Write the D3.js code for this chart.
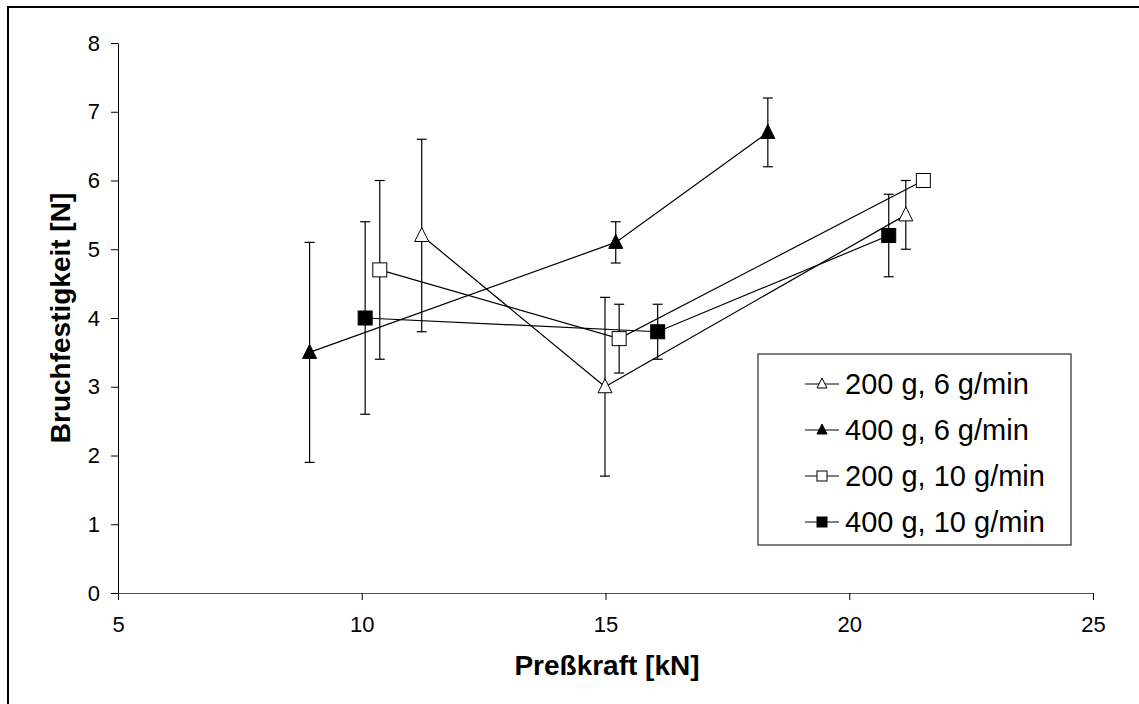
<!DOCTYPE html>
<html>

<head>
    <script type="text/javascript" src="https://cdnjs.cloudflare.com/ajax/libs/d3/7.8.5/d3.min.js"></script>
    <style>
        body {
            margin: 0;
            background: white;
        }
    </style>
</head>

<body>
    <script>
        // series names (legend)
        var seriesNames = ['200 g, 6 g/min', '400 g, 6 g/min', '200 g, 10 g/min', '400 g, 10 g/min'];
        var seriesMarker = ['triangle', 'triangle', 'square', 'square'];
        var seriesFilled = [false, true, false, true];

        // Preßkraft [kN]
        var xA = [11.23, 14.99, 21.16];
        var xB = [8.93, 15.21, 18.33];
        var xC = [10.37, 15.28, 21.52];
        var xD = [10.07, 16.07, 20.81];

        // Bruchfestigkeit [N]
        var yA = [5.2, 3.0, 5.5];
        var yB = [3.5, 5.1, 6.7];
        var yC = [4.7, 3.7, 6.0];
        var yD = [4.0, 3.8, 5.2];

        // error bar ends
        var loA = [3.8, 1.7, 5.0], hiA = [6.6, 4.3, 6.0];
        var loB = [1.9, 4.8, 6.2], hiB = [5.1, 5.4, 7.2];
        var loC = [3.4, 3.2, 6.0], hiC = [6.0, 4.2, 6.0];
        var loD = [2.6, 3.4, 4.6], hiD = [5.4, 4.2, 5.8];

        var xTicks = [5, 10, 15, 20, 25];
        var yTicks = [0, 1, 2, 3, 4, 5, 6, 7, 8];

        var series = [
            { x: xA, y: yA, lo: loA, hi: hiA },
            { x: xB, y: yB, lo: loB, hi: hiB },
            { x: xC, y: yC, lo: loC, hi: hiC },
            { x: xD, y: yD, lo: loD, hi: hiD }
        ];

        var width = 1139,
            height = 704,
            font = '"Liberation Sans", Arial, sans-serif';

        var x = d3.scaleLinear().domain([5, 25]).range([118, 1093]);
        var y = d3.scaleLinear().domain([0, 8]).range([593, 43]);

        var svg = d3.select('body')
            .append('svg')
            .attr('width', width)
            .attr('height', height);

        // outer frame
        svg.append('rect')
            .attr('x', 8)
            .attr('y', 7)
            .attr('width', 1140)
            .attr('height', 710)
            .attr('fill', 'none')
            .attr('stroke', 'black')
            .attr('stroke-width', 2);

        var xAxis = svg.append('g')
            .attr('transform', 'translate(0,' + y(0) + ')')
            .call(d3.axisBottom(x).tickValues(xTicks).tickSize(7).tickPadding(16).tickSizeOuter(0));

        var yAxis = svg.append('g')
            .attr('transform', 'translate(' + x(5) + ',0)')
            .call(d3.axisLeft(y).tickValues(yTicks).tickSize(7).tickPadding(11).tickSizeOuter(0));

        [xAxis, yAxis].forEach(function(ax) {
            ax.selectAll('path, line').attr('stroke', 'black');
            ax.selectAll('text')
                .style('font-family', font)
                .style('font-size', '22px')
                .attr('fill', 'black');
        });
        xAxis.select('.domain').attr('stroke', '#555');

        svg.append('text')
            .attr('x', 607)
            .attr('y', 675)
            .attr('text-anchor', 'middle')
            .style('font-family', font)
            .style('font-size', '28px')
            .style('font-weight', 'bold')
            .text('Preßkraft [kN]');

        svg.append('text')
            .attr('transform', 'translate(70,' + y(4) + ') rotate(-90)')
            .attr('text-anchor', 'middle')
            .style('font-family', font)
            .style('font-size', '28px')
            .style('font-weight', 'bold')
            .text('Bruchfestigkeit [N]');

        function drawMarker(g, type, filled, cx, cy) {
            if (type === 'square') {
                g.append('rect')
                    .attr('x', cx - 7)
                    .attr('y', cy - 7)
                    .attr('width', 14)
                    .attr('height', 14)
                    .attr('fill', filled ? 'black' : 'white')
                    .attr('stroke', 'black')
                    .attr('stroke-width', 1);
            } else {
                g.append('path')
                    .attr('d', 'M' + cx + ',' + (cy - 8) + 'L' + (cx + 7) + ',' + (cy + 6) + 'L' + (cx - 7) + ',' + (cy + 6) + 'Z')
                    .attr('fill', filled ? 'black' : 'white')
                    .attr('stroke', 'black')
                    .attr('stroke-width', 1);
            }
        }

        var line = d3.line()
            .x(function(d) { return x(d[0]); })
            .y(function(d) { return y(d[1]); });

        series.forEach(function(s, k) {
            var g = svg.append('g');
            var pts = s.x.map(function(v, i) { return [v, s.y[i]]; });

            // error bars
            s.x.forEach(function(v, i) {
                if (s.hi[i] === s.lo[i]) return;
                g.append('line')
                    .attr('x1', x(v)).attr('x2', x(v))
                    .attr('y1', y(s.lo[i])).attr('y2', y(s.hi[i]))
                    .attr('stroke', 'black').attr('stroke-width', 1.2);
                [s.lo[i], s.hi[i]].forEach(function(e) {
                    g.append('line')
                        .attr('x1', x(v) - 5).attr('x2', x(v) + 5)
                        .attr('y1', y(e)).attr('y2', y(e))
                        .attr('stroke', 'black').attr('stroke-width', 1.2);
                });
            });

            g.append('path')
                .datum(pts)
                .attr('d', line)
                .attr('fill', 'none')
                .attr('stroke', 'black')
                .attr('stroke-width', 1.2);

            pts.forEach(function(p) {
                drawMarker(g, seriesMarker[k], seriesFilled[k], x(p[0]), y(p[1]));
            });
        });

        // legend
        var legend = svg.append('g');
        legend.append('rect')
            .attr('x', 758)
            .attr('y', 354)
            .attr('width', 313)
            .attr('height', 191)
            .attr('fill', 'white')
            .attr('stroke', 'black')
            .attr('stroke-width', 1);

        seriesNames.forEach(function(name, k) {
            var ly = 384 + k * 46;
            legend.append('line')
                .attr('x1', 805).attr('x2', 839)
                .attr('y1', ly).attr('y2', ly)
                .attr('stroke', 'black').attr('stroke-width', 1.2);
            if (seriesMarker[k] === 'square') {
                legend.append('rect')
                    .attr('x', 817).attr('y', ly - 5)
                    .attr('width', 10).attr('height', 10)
                    .attr('fill', seriesFilled[k] ? 'black' : 'white')
                    .attr('stroke', 'black');
            } else {
                legend.append('path')
                    .attr('d', 'M822,' + (ly - 6) + 'L827,' + (ly + 4) + 'L817,' + (ly + 4) + 'Z')
                    .attr('fill', seriesFilled[k] ? 'black' : 'white')
                    .attr('stroke', 'black');
            }
            legend.append('text')
                .attr('x', 845)
                .attr('y', ly)
                .attr('dy', '.36em')
                .style('font-family', font)
                .style('font-size', '29px')
                .text(name);
        });
    </script>
</body>

</html>
